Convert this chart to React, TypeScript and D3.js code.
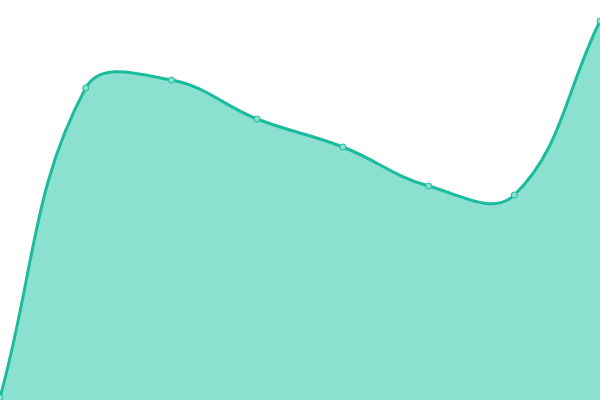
import * as d3 from 'd3';
import { useMemo } from 'react';

// values (0 = bottom, 400 = top)
const steps = [0, 1, 2, 3, 4, 5, 6, 7];
const values = [2.5, 312, 320, 281, 253, 214, 205, 379];

const WIDTH = 600;
const HEIGHT = 400;
const LINE = '#1abc9c';
const FILL = '#8be0cf';
const TENSION = 0.4;

// spline with distance-weighted control points (Chart.js style tension curve)
class TensionCurve {
  _context: any;
  _line = NaN;
  _pts: [number, number][] = [];
  constructor(context: any) {
    this._context = context;
  }
  areaStart() { this._line = 0; }
  areaEnd() { this._line = NaN; }
  lineStart() { this._pts = []; }
  point(x: number, y: number) { this._pts.push([+x, +y]); }
  lineEnd() {
    const pts = this._pts;
    const n = pts.length;
    const ctx = this._context;
    if (n) {
      if (this._line) ctx.lineTo(pts[0][0], pts[0][1]);
      else ctx.moveTo(pts[0][0], pts[0][1]);
      const cps = pts.map((p, i) => {
        const prev = pts[Math.max(i - 1, 0)];
        const next = pts[Math.min(i + 1, n - 1)];
        const d01 = Math.hypot(p[0] - prev[0], p[1] - prev[1]);
        const d12 = Math.hypot(next[0] - p[0], next[1] - p[1]);
        let s01 = d01 / (d01 + d12);
        let s12 = d12 / (d01 + d12);
        if (isNaN(s01)) s01 = 0;
        if (isNaN(s12)) s12 = 0;
        const fa = TENSION * s01;
        const fb = TENSION * s12;
        return {
          px: p[0] - fa * (next[0] - prev[0]),
          py: p[1] - fa * (next[1] - prev[1]),
          nx: p[0] + fb * (next[0] - prev[0]),
          ny: p[1] + fb * (next[1] - prev[1]),
        };
      });
      for (let i = 1; i < n; i++) {
        ctx.bezierCurveTo(cps[i - 1].nx, cps[i - 1].ny, cps[i].px, cps[i].py, pts[i][0], pts[i][1]);
      }
    }
    if (this._line || (this._line !== 0 && n === 1)) ctx.closePath();
    this._line = 1 - this._line;
  }
}

const tensionCurve = (context: any) => new TensionCurve(context);

const AreaChart = () => {
  const xScale = useMemo(() => d3.scaleLinear().domain([0, steps.length - 1]).range([0, WIDTH]), []);
  const yScale = useMemo(() => d3.scaleLinear().domain([0, 400]).range([HEIGHT, 0]), []);

  const points: [number, number][] = steps.map((s, i) => [xScale(s), yScale(values[i])]);

  const area = d3.area<[number, number]>()
    .x(d => d[0])
    .y0(HEIGHT)
    .y1(d => d[1])
    .curve(tensionCurve as any);

  const line = d3.line<[number, number]>()
    .x(d => d[0])
    .y(d => d[1])
    .curve(tensionCurve as any);

  return (
    <svg width={WIDTH} height={HEIGHT} style={{ display: 'block' }}>
      <path d={area(points) || ''} fill={FILL} />
      <path d={line(points) || ''} fill="none" stroke={LINE} strokeWidth={3} />
      {points.map((p, i) => (
        <circle key={i} cx={p[0]} cy={p[1]} r={3} fill={FILL} stroke={LINE} strokeWidth={1} />
      ))}
    </svg>
  );
};

export default function App() {
  return (
    <div style={{ position: 'absolute', left: 0, top: 0 }}>
      <AreaChart />
    </div>
  );
}
